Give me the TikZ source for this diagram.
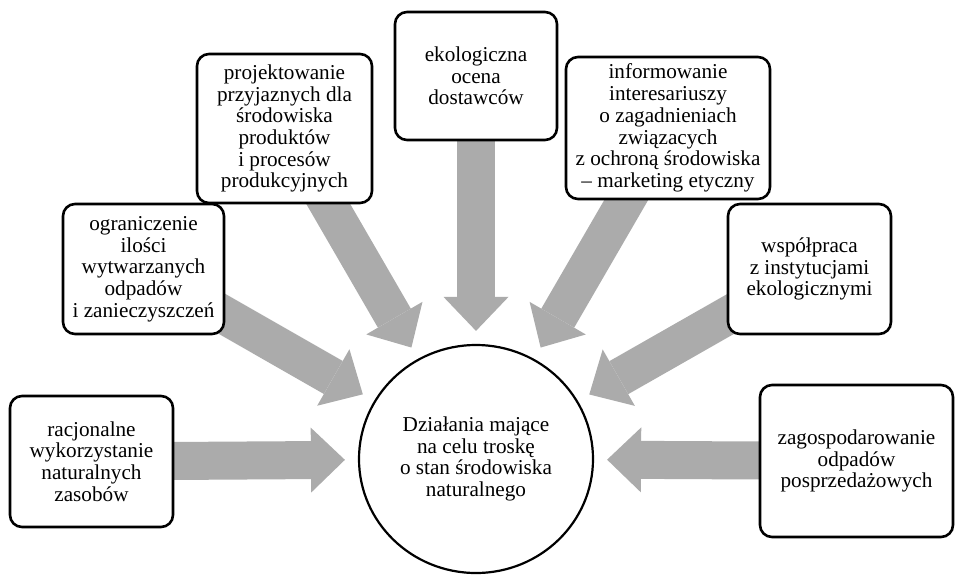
\documentclass[tikz,border=0pt]{standalone}
\usepackage{fontspec}
\setmainfont{Liberation Serif}
\usepackage{tikz}
\usetikzlibrary{shapes.geometric,arrows.meta,positioning,backgrounds}
\definecolor{flowgray}{RGB}{171,171,171}
\tikzstyle{box} = [rectangle,rounded corners=12pt,draw=black,line width=2.6pt,fill=white,align=center,inner sep=0pt,font=\fontsize{21.2}{21.7}\selectfont]
\tikzstyle{goal} = [ellipse,minimum width=234pt,minimum height=228pt,draw=black,line width=2.2pt,fill=white,align=center,inner sep=0pt,font=\fontsize{21.2}{21.7}\selectfont]
\tikzstyle{flow} = [draw=flowgray,line width=38pt,shorten >=13pt,-{Triangle[width=65pt,length=34pt,line width=0pt]}]

\begin{document}
\begin{tikzpicture}[x=1pt,y=1pt,node distance=383pt]
\useasboundingbox (0,0) rectangle (955,-574);
\node (centre) [goal] at (476,-459) {Działania mające\\na celu troskę\\o stan środowiska\\naturalnego};
\node (res) [box,minimum width=163pt,minimum height=131pt,left of=centre,xshift=-1.5pt,yshift=-2.5pt] {racjonalne\\wykorzystanie\\naturalnych\\zasobów};
\node (waste) [box,minimum width=161pt,minimum height=130pt,left of=centre,xshift=50.5pt,yshift=190pt] {ograniczenie\\ilości\\wytwarzanych\\odpadów\\i zanieczyszczeń};
\node (design) [box,minimum width=175pt,minimum height=149pt,above of=centre,xshift=-191.5pt,yshift=-52.5pt] {projektowanie\\przyjaznych dla\\środowiska\\produktów\\i procesów\\produkcyjnych};
\node (supp) [box,minimum width=162pt,minimum height=128pt,above of=centre] {ekologiczna\\ocena\\dostawców};
\node (info) [box,minimum width=204pt,minimum height=142pt,above of=centre,xshift=192pt,yshift=-52pt] {informowanie\\interesariuszy\\o zagadnieniach\\związacych\\z ochroną środowiska\\– marketing etyczny};
\node (coop) [box,minimum width=163pt,minimum height=130pt,right of=centre,xshift=-49.5pt,yshift=190pt] {współpraca\\z instytucjami\\ekologicznymi};
\node (after) [box,minimum width=193pt,minimum height=152pt,right of=centre,xshift=-2.5pt,yshift=-2pt] {zagospodarowanie\\odpadów\\posprzedażowych};

\begin{scope}[on background layer]
\draw [flow] (res.center) -- (centre);
\draw [flow] (waste.center) -- (centre);
\draw [flow] (design.center) -- (centre);
\draw [flow] (supp.center) -- (centre);
\draw [flow] (info.center) -- (centre);
\draw [flow] (coop.center) -- (centre);
\draw [flow] (after.center) -- (centre);
\end{scope}
\end{tikzpicture}
\end{document}
